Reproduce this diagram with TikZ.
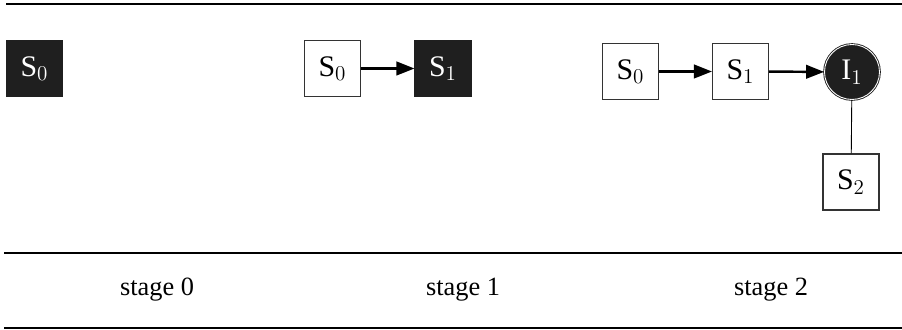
\documentclass[tikz,border=0pt]{standalone}
\usepackage{fontspec}
\setmainfont{Liberation Serif}
\usetikzlibrary{arrows.meta}
\newcommand\stateColor{black!88!white}

\tikzset{
    state/.style={draw=black!80, line width=0.6pt, minimum size=1.12cm, inner sep=0pt,
        font=\fontsize{17}{20}\selectfont},
    active/.style={state, fill=\stateColor, draw=\stateColor, text=white},
    instr/.style={circle, fill=\stateColor, draw=\stateColor, double=white, double distance=0.5pt,
        line width=0.5pt, minimum size=1.1cm, inner sep=0pt, text=white,
        font=\fontsize{17}{20}\selectfont},
    trans/.style={line width=1.4pt, -{Triangle[length=0.36cm, width=0.27cm]}},
    rule/.style={line width=0.8pt},
    stagelabel/.style={font=\fontsize{15}{18}\selectfont}
}

\begin{document}
\begin{tikzpicture}[x=0.02cm, y=-0.02cm]
    \useasboundingbox (0,0) rectangle (902,330);
    \draw[rule] (6,4) -- (902,4);

    % stage 0
    \node[active] (zS0) at (34.5,68.5) {S$_0$};

    % stage 1
    \node[state] (oS0) at (332.5,68.5) {S$_0$};
    \node[active] (oS1) at (443,68.5) {S$_1$};
    \draw[trans] (oS0) -- (oS1);

    % stage 2
    \node[state] (tS0) at (630.5,71.5) {S$_0$};
    \node[state] (tS1) at (740.5,71.5) {S$_1$};
    \node[instr] (tI1) at (852,72) {I$_1$};
    \node[state] (tS2) at (851,182) {S$_2$};
    \draw[trans] (tS0) -- (tS1);
    \draw[trans] (tS1) -- (tI1);
    \draw[line width=0.5pt] (tI1) -- (tS2);

    \draw[rule] (4,253) -- (902,253);
    \node[stagelabel] (lab0) at (157,290) {stage 0};
    \node[stagelabel] (lab1) at (463,290) {stage 1};
    \node[stagelabel] (lab2) at (771,290) {stage 2};
    \draw[rule] (4,328) -- (902,328);
\end{tikzpicture}
\end{document}
